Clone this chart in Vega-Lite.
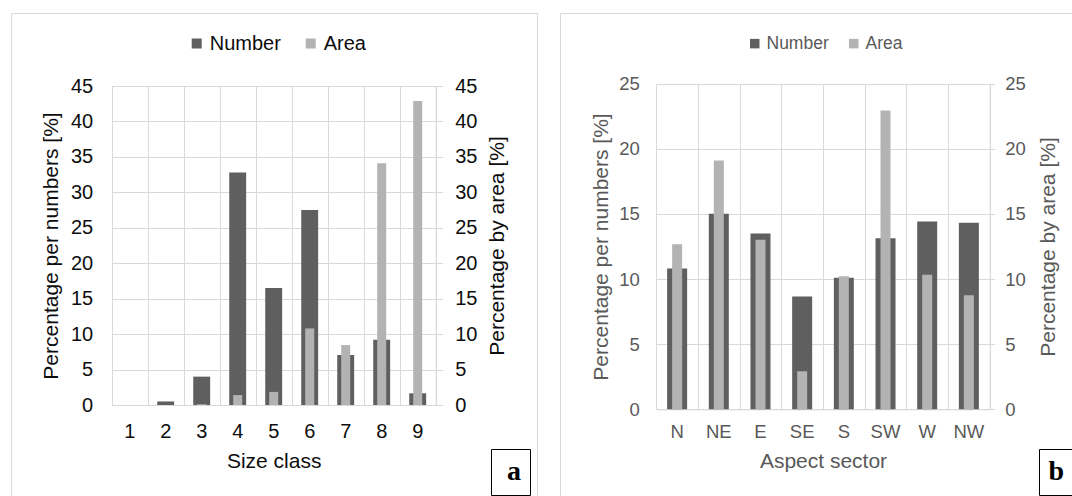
{
  "$schema": "https://vega.github.io/schema/vega-lite/v6.json",
  "padding": {"left": 10, "top": 12, "right": 0, "bottom": 0},
  "background": "white",
  "spacing": 21,
  "config": {
    "view": {"stroke": "#d9d9d9", "strokeWidth": 1},
    "font": "Liberation Sans",
    "axis": {"gridColor": "#d9d9d9", "gridWidth": 1, "domainColor": "#d9d9d9", "tickColor": "#d9d9d9", "labelFont": "Liberation Sans", "titleFont": "Liberation Sans", "titleFontWeight": "normal"},
    "legend": {"labelFont": "Liberation Sans"}
  },
  "resolve": {"scale": {"color": "independent", "strokeDash": "independent"}, "legend": {"color": "independent", "strokeDash": "independent"}},
  "hconcat": [
    {
      "width": 526,
      "height": 483,
      "data": {"values": [
        {"Size class": "1", "Number": 0, "Area": 0},
        {"Size class": "2", "Number": 0.5, "Area": 0},
        {"Size class": "3", "Number": 4.0, "Area": 0.1},
        {"Size class": "4", "Number": 32.8, "Area": 1.4},
        {"Size class": "5", "Number": 16.5, "Area": 1.85},
        {"Size class": "6", "Number": 27.5, "Area": 10.8},
        {"Size class": "7", "Number": 7.05, "Area": 8.45},
        {"Size class": "8", "Number": 9.2, "Area": 34.1},
        {"Size class": "9", "Number": 1.65, "Area": 42.9}
      ]},
      "layer": [
        {
          "mark": {"type": "bar", "width": {"band": 0.47}},
          "encoding": {
            "x": {"field": "Size class", "type": "ordinal", "sort": null,
              "scale": {"range": [100.7, 424.7], "paddingInner": 0, "paddingOuter": 0},
              "axis": {"orient": "bottom", "offset": -91, "grid": false, "ticks": false, "tickSize": 0, "labelPadding": 16, "labelAngle": 0, "labelFontSize": 20, "labelColor": "#0d0d0d", "title": "Size class", "titleFontSize": 21, "titleColor": "#0d0d0d", "titlePadding": 9}},
            "y": {"field": "Number", "type": "quantitative",
              "scale": {"domain": [0, 45], "range": [392, 73], "nice": false, "zero": true},
              "axis": {"orient": "left", "offset": -100.7, "values": [0, 5, 10, 15, 20, 25, 30, 35, 40, 45], "grid": true, "domain": false, "ticks": false, "tickSize": 0, "labelPadding": 19, "labelFontSize": 20, "labelColor": "#0d0d0d", "title": "Percentage per numbers [%]", "titleFontSize": 21, "titleColor": "#0d0d0d", "titlePadding": 9}},
            "color": {"datum": "Number", "type": "nominal",
              "scale": {"domain": ["Number", "Area"], "range": ["#5f5f5f", "#b3b3b3"]},
              "legend": {"orient": "none", "legendX": 175.7, "legendY": 20.5, "direction": "horizontal", "title": null, "symbolType": "square", "symbolSize": 100, "symbolStrokeWidth": 0, "labelFontSize": 20, "labelColor": "#0d0d0d", "labelOffset": 3, "columnPadding": 19, "padding": 0}},
            "strokeDash": {"datum": "a", "type": "nominal",
              "legend": {"orient": "none", "legendX": 480, "legendY": 436, "title": null, "symbolSize": 0, "symbolOpacity": 0, "symbolStrokeWidth": 0, "labelOffset": -21, "labelFont": "Liberation Serif", "labelFontWeight": "bold", "labelFontSize": 28, "labelColor": "#000000", "strokeColor": "#000000", "padding": 9}}
          }
        },
        {
          "mark": {"type": "bar", "width": {"band": 0.25}},
          "encoding": {
            "x": {"field": "Size class", "type": "ordinal", "sort": null,
              "axis": {"orient": "top", "grid": true, "tickBand": "extent", "labels": false, "ticks": false, "domain": false, "title": null}},
            "y": {"field": "Area", "type": "quantitative",
              "scale": {"domain": [0, 45], "range": [392, 73], "nice": false, "zero": true},
              "axis": {"orient": "right", "offset": -101.3, "values": [0, 5, 10, 15, 20, 25, 30, 35, 40, 45], "grid": false, "domain": true, "ticks": true, "tickSize": 7, "labelPadding": 12, "labelFontSize": 20, "labelColor": "#0d0d0d", "title": "Percentage by area [%]", "titleAngle": 270, "titleBaseline": "top", "titleFontSize": 21, "titleColor": "#0d0d0d", "titlePadding": 10}},
            "color": {"datum": "Area", "type": "nominal"}
          }
        }
      ],
      "resolve": {"scale": {"y": "independent"}, "axis": {"x": "independent"}}
    },
    {
      "width": 514,
      "height": 483,
      "data": {"values": [
        {"Aspect sector": "N", "Number": 10.82, "Area": 12.67},
        {"Aspect sector": "NE", "Number": 15.02, "Area": 19.11},
        {"Aspect sector": "E", "Number": 13.49, "Area": 13.02},
        {"Aspect sector": "SE", "Number": 8.67, "Area": 2.92},
        {"Aspect sector": "S", "Number": 10.11, "Area": 10.21},
        {"Aspect sector": "SW", "Number": 13.13, "Area": 22.95},
        {"Aspect sector": "W", "Number": 14.41, "Area": 10.34},
        {"Aspect sector": "NW", "Number": 14.33, "Area": 8.75}
      ]},
      "layer": [
        {
          "mark": {"type": "bar", "width": {"band": 0.48}},
          "encoding": {
            "x": {"field": "Aspect sector", "type": "ordinal", "sort": null,
              "scale": {"range": [96.3, 429.7], "paddingInner": 0, "paddingOuter": 0},
              "axis": {"orient": "bottom", "offset": -86.7, "grid": false, "ticks": false, "tickSize": 0, "labelPadding": 13, "labelAngle": 0, "labelFontSize": 18.5, "labelColor": "#595959", "title": "Aspect sector", "titleFontSize": 21, "titleColor": "#595959", "titlePadding": 10}},
            "y": {"field": "Number", "type": "quantitative",
              "scale": {"domain": [0, 25], "range": [396.3, 70.7], "nice": false, "zero": true},
              "axis": {"orient": "left", "offset": -96.3, "values": [0, 5, 10, 15, 20, 25], "grid": true, "domain": false, "ticks": false, "tickSize": 0, "labelPadding": 17, "labelFontSize": 18.5, "labelColor": "#595959", "title": "Percentage per numbers [%]", "titleFontSize": 21, "titleColor": "#595959", "titlePadding": 7}},
            "color": {"datum": "Number", "type": "nominal",
              "scale": {"domain": ["Number", "Area"], "range": ["#5f5f5f", "#b3b3b3"]},
              "legend": {"orient": "none", "legendX": 186, "legendY": 21.5, "direction": "horizontal", "title": null, "symbolType": "square", "symbolSize": 90, "symbolStrokeWidth": 0, "labelFontSize": 17.5, "labelColor": "#595959", "labelOffset": 3, "columnPadding": 16, "padding": 0}},
            "strokeDash": {"datum": "b", "type": "nominal",
              "legend": {"orient": "none", "legendX": 479, "legendY": 436, "title": null, "symbolSize": 0, "symbolOpacity": 0, "symbolStrokeWidth": 0, "labelOffset": -27.5, "labelFont": "Liberation Serif", "labelFontWeight": "bold", "labelFontSize": 28, "labelColor": "#000000", "strokeColor": "#000000", "padding": 9}}
          }
        },
        {
          "mark": {"type": "bar", "width": {"band": 0.24}},
          "encoding": {
            "x": {"field": "Aspect sector", "type": "ordinal", "sort": null,
              "axis": {"orient": "top", "grid": true, "tickBand": "extent", "labels": false, "ticks": false, "domain": false, "title": null}},
            "y": {"field": "Area", "type": "quantitative",
              "scale": {"domain": [0, 25], "range": [396.3, 70.7], "nice": false, "zero": true},
              "axis": {"orient": "right", "offset": -84.3, "values": [0, 5, 10, 15, 20, 25], "grid": false, "domain": true, "ticks": true, "tickSize": 5, "labelPadding": 10, "labelFontSize": 18.5, "labelColor": "#595959", "title": "Percentage by area [%]", "titleAngle": 270, "titleBaseline": "top", "titleFontSize": 21, "titleColor": "#595959", "titlePadding": 12}},
            "color": {"datum": "Area", "type": "nominal"}
          }
        }
      ],
      "resolve": {"scale": {"y": "independent"}, "axis": {"x": "independent"}}
    }
  ]
}
